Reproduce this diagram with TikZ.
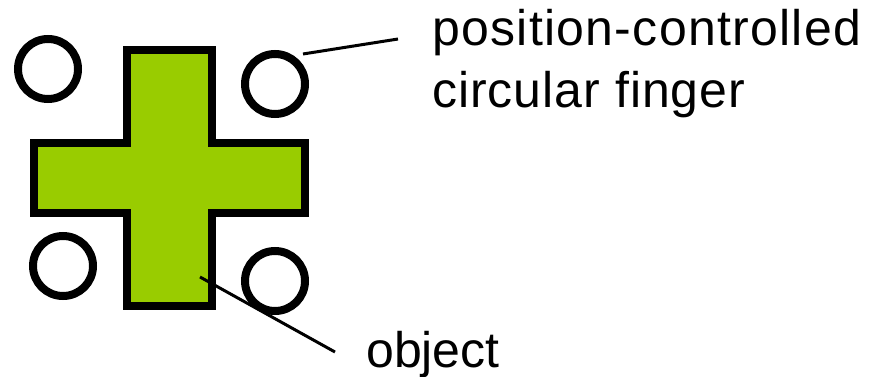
\documentclass[tikz,border=0pt]{standalone}
\usepackage{fontspec}
\setmainfont{Liberation Sans}
\definecolor{objgreen}{RGB}{153,204,0}
\begin{document}
\begin{tikzpicture}[x=1pt,y=-1pt,
  finger/.style={draw=black,line width=8pt,circle,minimum size=60pt,inner sep=0pt},
  leader/.style={draw=black,line width=3pt},
  label/.style={inner sep=0pt,anchor=base west,font=\fontsize{50}{60}\selectfont}]
  \useasboundingbox (0,0) rectangle (872,377);
  % the cross-shaped object
  \draw[line width=7.5pt,fill=objgreen,line join=miter]
    (127,50) -- (212,50) -- (212,143) -- (305,143) -- (305,213) -- (212,213)
    -- (212,306) -- (127,306) -- (127,213) -- (34,213) -- (34,143) -- (127,143) -- cycle;
  % the four fingers
  \node[finger] (f1) at (48,69) {};
  \node[finger] (f2) at (275,84) {};
  \node[finger] (f3) at (63,266) {};
  \node[finger] (f4) at (275,281) {};
  % labels
  \node[label] (lf1) at (432,46) {\addfontfeatures{LetterSpace=2.6}position-controlled};
  \node[label] (lf2) at (432,108) {\addfontfeatures{LetterSpace=2}circular finger};
  \node[label] (lo) at (366,367) {object};
  % leader lines
  \coordinate (a1) at (303,54);
  \coordinate (a2) at (398,39);
  \coordinate (b1) at (200,277);
  \coordinate (b2) at (335,352);
  \draw[leader] (a1) -- (a2);
  \draw[leader] (b1) -- (b2);
\end{tikzpicture}
\end{document}
